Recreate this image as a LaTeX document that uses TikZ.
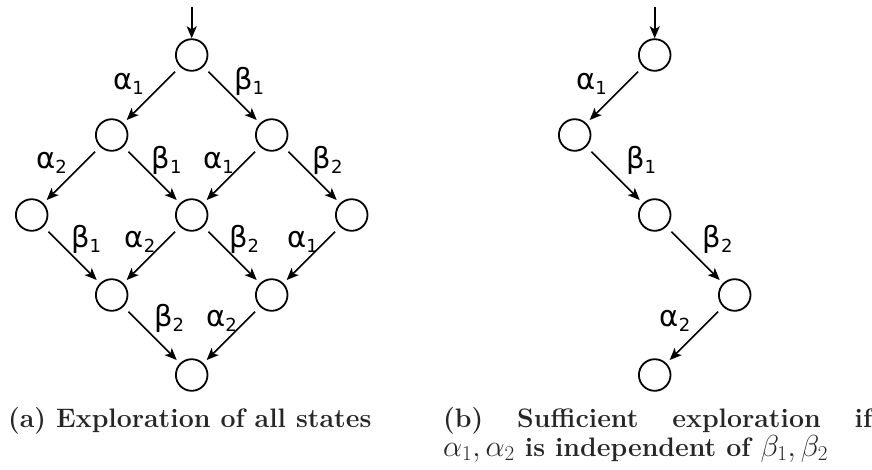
\documentclass[tikz,border=0pt]{standalone}
\usepackage{fontspec}
\usepackage{graphicx}
\newfontfamily\labfont{DejaVu Sans}
\usetikzlibrary{arrows.meta,calc}
\newcommand\glab[2]{#1\raisebox{-5.5pt}{\fontsize{18}{18}\selectfont #2}}
\newcommand\capmath[1]{\scalebox{1.22}{$#1$}}
\begin{document}
\begin{tikzpicture}[x=1pt,y=-1pt,
  state/.style={circle,draw,line width=1.8pt,minimum size=31.6pt,inner sep=0pt},
  edge/.style={-{Stealth[length=12pt,width=10pt,inset=3pt]},line width=1.6pt,shorten <=6.9pt,shorten >=4.5pt},
  inarrow/.style={-{Stealth[length=12pt,width=10pt,inset=3pt]},line width=1.6pt},
  lab/.style={anchor=base west,inner sep=0pt,font=\labfont\fontsize{29}{29}\selectfont},
  captext/.style={anchor=base west,inner sep=0pt,text=black!85,font=\bfseries\fontsize{26.7}{30}\selectfont},
]
\useasboundingbox (0,0) rectangle (872,469);
% left diagram
\node[state] (A0) at (191.7,55) {};
\node[state] (B1) at (111.7,135) {};
\node[state] (B2) at (271.7,135) {};
\node[state] (C1) at (31.7,215) {};
\node[state] (C2) at (191.7,215) {};
\node[state] (C3) at (351.7,215) {};
\node[state] (D1) at (111.7,295) {};
\node[state] (D2) at (271.7,295) {};
\node[state] (E) at (191.7,375) {};
\coordinate (inL) at (191.7,7);
\draw[inarrow] (inL) -- (A0.north);
\draw[edge] (A0) -- (B1);
\draw[edge] (A0) -- (B2);
\draw[edge] (B1) -- (C1);
\draw[edge] (B1) -- (C2);
\draw[edge] (B2) -- (C2);
\draw[edge] (B2) -- (C3);
\draw[edge] (C1) -- (D1);
\draw[edge] (C2) -- (D1);
\draw[edge] (C2) -- (D2);
\draw[edge] (C3) -- (D2);
\draw[edge] (D1) -- (E);
\draw[edge] (D2) -- (E);
\node[lab] (l1) at (113,89) {\glab{α}{1}};
\node[lab] (l2) at (234,89) {\glab{β}{1}};
\node[lab] (l3) at (36,168) {\glab{α}{2}};
\node[lab] (l4) at (151.5,168) {\glab{β}{1}};
\node[lab] (l5) at (203,168) {\glab{α}{1}};
\node[lab] (l6) at (312.5,168) {\glab{β}{2}};
\node[lab] (l7) at (71,247) {\glab{β}{1}};
\node[lab] (l8) at (124.5,247) {\glab{α}{2}};
\node[lab] (l9) at (229,247) {\glab{β}{2}};
\node[lab] (l10) at (287,247) {\glab{α}{1}};
\node[lab] (l11) at (154,326) {\glab{β}{2}};
\node[lab] (l12) at (206,326) {\glab{α}{2}};
% right diagram
\node[state] (R0) at (654.7,55) {};
\node[state] (R1) at (574.7,135) {};
\node[state] (R2) at (654.7,215) {};
\node[state] (R3) at (734.7,295) {};
\node[state] (R4) at (654.7,375) {};
\coordinate (inR) at (654.7,7);
\draw[inarrow] (inR) -- (R0.north);
\draw[edge] (R0) -- (R1);
\draw[edge] (R1) -- (R2);
\draw[edge] (R2) -- (R3);
\draw[edge] (R3) -- (R4);
\node[lab] (r1) at (576,89) {\glab{α}{1}};
\node[lab] (r2) at (626,168) {\glab{β}{1}};
\node[lab] (r3) at (702.5,247) {\glab{β}{2}};
\node[lab] (r4) at (659.5,326) {\glab{α}{2}};
% captions
\node[captext] (capa) at (8,427) {(a) Exploration of all states};
\node[captext] (capb1) at (443,427) {\hbox to 429pt{(b)\hfill Sufficient\hfill exploration\hfill if}};
\node[captext] (capb2) at (443,456) {\capmath{\alpha_1,\alpha_2} is independent of \capmath{\beta_1,\beta_2}};
\end{tikzpicture}
\end{document}
